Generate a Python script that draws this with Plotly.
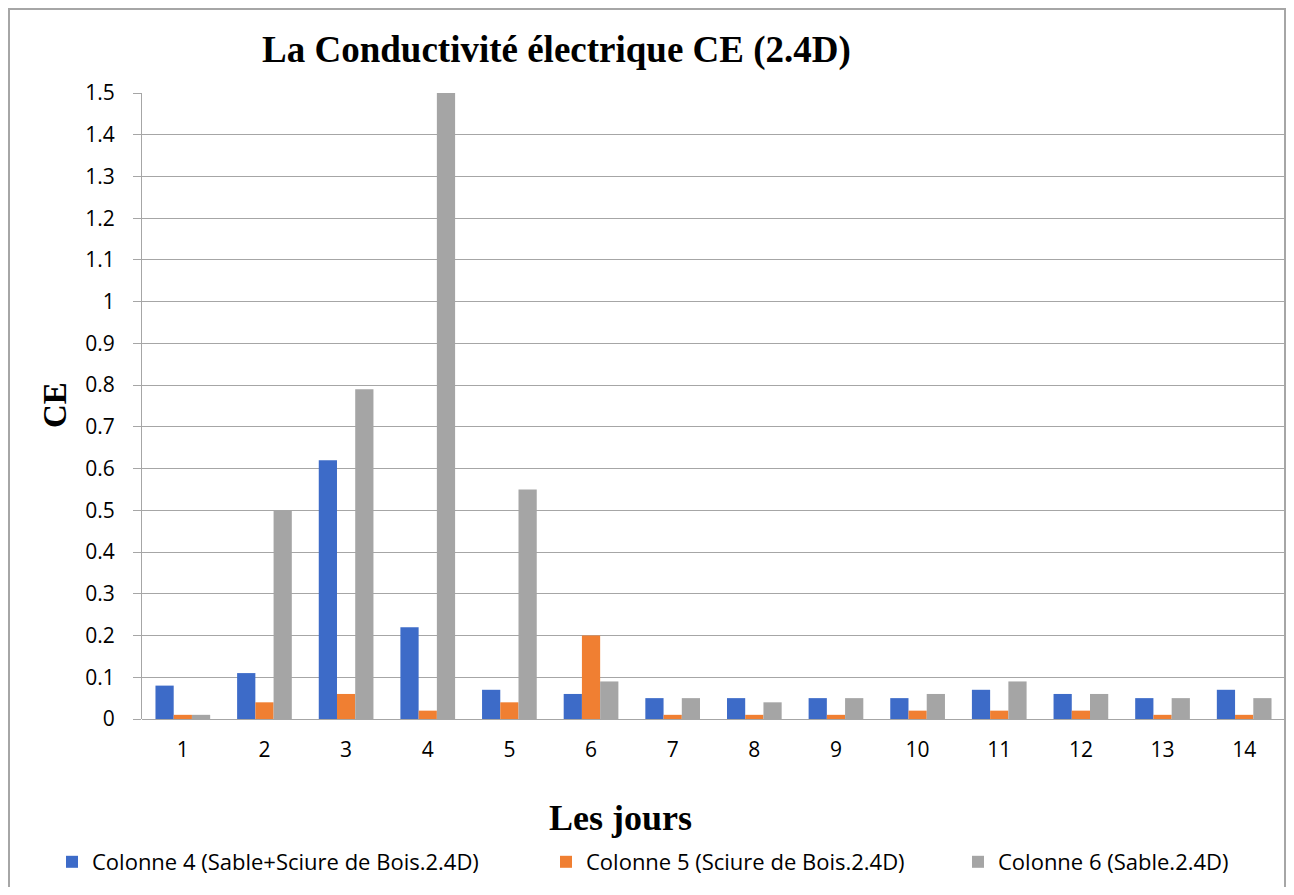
import plotly.graph_objects as go

jours = ["1", "2", "3", "4", "5", "6", "7", "8", "9", "10", "11", "12", "13", "14"]
colonne4 = [0.08, 0.11, 0.62, 0.22, 0.07, 0.06, 0.05, 0.05, 0.05, 0.05, 0.07, 0.06, 0.05, 0.07]
colonne5 = [0.01, 0.04, 0.06, 0.02, 0.04, 0.20, 0.01, 0.01, 0.01, 0.02, 0.02, 0.02, 0.01, 0.01]
colonne6 = [0.01, 0.50, 0.79, 1.50, 0.55, 0.09, 0.05, 0.04, 0.05, 0.06, 0.09, 0.06, 0.05, 0.05]

noms = ["Colonne 4 (Sable+Sciure de Bois.2.4D)",
        "Colonne 5 (Sciure de Bois.2.4D)",
        "Colonne 6 (Sable.2.4D)"]
couleurs = ["#3d6bc8", "#f07f32", "#a5a5a5"]

# the page body has an 8px margin, so the figure is drawn 8px in from the corner
OFF = 8
W, H = 1294 - 2 * OFF, 895 - 2 * OFF
# plot area (figure pixels)
L, R, T, B = 142 - OFF, W - 1, 93 - OFF, 719 - OFF


def px_x(p):
    # p is a screen x position
    return (p - OFF - L) / (R - L)


def px_y(p):
    return (B - (p - OFF)) / (B - T)


fig = go.Figure()
legendes = ["legend", "legend2", "legend3"]
for nom, vals, col, lg in zip(noms, [colonne4, colonne5, colonne6], couleurs, legendes):
    fig.add_trace(go.Bar(x=jours, y=vals, name=nom, marker_color=col,
                         marker_line_width=0, legend=lg, showlegend=True))

leg_font = dict(family="Open Sans", size=22, color="#000000")
leg_common = dict(orientation="h", xanchor="left", yanchor="middle",
                  font=leg_font, bgcolor="rgba(0,0,0,0)")
tick_font = dict(family="Open Sans", size=21, color="#000000")

# outer frame: left, top and right sides (the bottom falls outside the page)
fx0, fx1 = px_x(9), 1
fy0, fy1 = px_y(900), px_y(9)
cadre = f"M {fx0},{fy0} L {fx0},{fy1} L {fx1},{fy1} L {fx1},{fy0}"

fig.update_layout(
    width=W, height=H,
    showlegend=True,
    margin=dict(l=L, r=W - R, t=T, b=H - B),
    paper_bgcolor="white", plot_bgcolor="white",
    bargap=0.33, bargroupgap=0,
    legend=dict(x=px_x(52), y=px_y(862), **leg_common),
    legend2=dict(x=px_x(546), y=px_y(862), **leg_common),
    legend3=dict(x=px_x(958), y=px_y(862), **leg_common),
    xaxis=dict(type="category", showgrid=False, showline=False, ticks="",
               tickfont=tick_font, ticklabelstandoff=16),
    yaxis=dict(range=[0, 1.5], dtick=0.1, tickformat="~g",
               showgrid=True, gridcolor="#a6a6a6", gridwidth=1,
               showline=True, linecolor="#a6a6a6", linewidth=1,
               ticks="outside", ticklen=8, tickcolor="#a6a6a6",
               zeroline=True, zerolinecolor="#a6a6a6", zerolinewidth=1,
               tickfont=tick_font, ticklabelstandoff=14),
    annotations=[
        dict(text="<b>La Conductivité électrique CE (2.4D)</b>", x=px_x(556), y=px_y(50),
             xref="paper", yref="paper", showarrow=False,
             font=dict(family="Liberation Serif", size=37, color="#000000"),
             xanchor="center", yanchor="middle"),
        dict(text="<b>Les jours</b>", x=px_x(620), y=px_y(818),
             xref="paper", yref="paper", showarrow=False,
             font=dict(family="Liberation Serif", size=36, color="#000000"),
             xanchor="center", yanchor="middle"),
        dict(text="<b>CE</b>", x=px_x(55), y=px_y(405), textangle=-90,
             xref="paper", yref="paper", showarrow=False,
             font=dict(family="Liberation Serif", size=33, color="#000000"),
             xanchor="center", yanchor="middle"),
    ],
    shapes=[dict(type="path", xref="paper", yref="paper", path=cadre,
                 line=dict(color="#a6a6a6", width=2), layer="below")],
)

fig.write_html("out.html")
